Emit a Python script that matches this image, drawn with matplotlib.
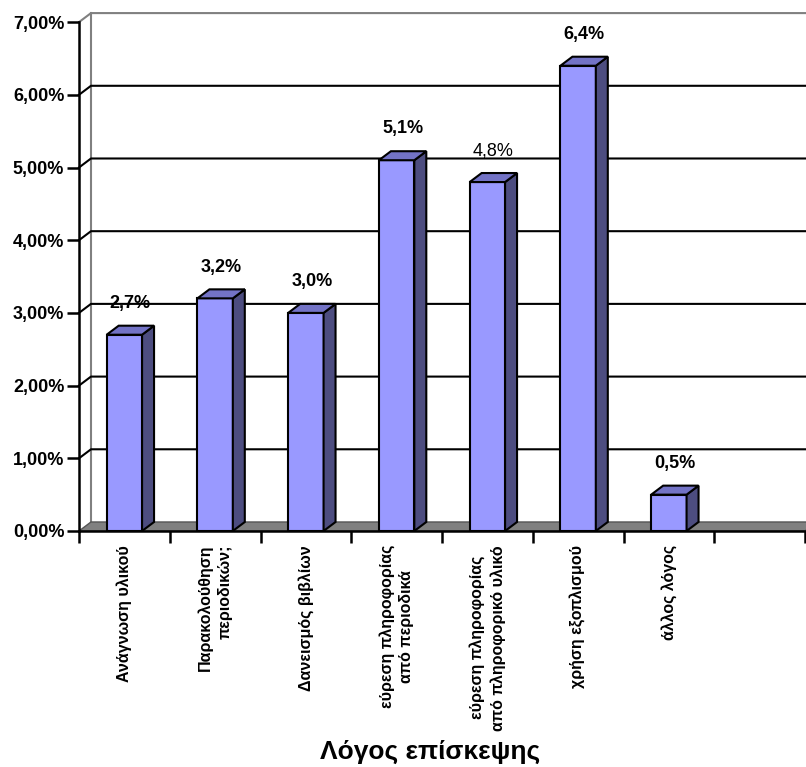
import numpy as np
import matplotlib.pyplot as plt
from matplotlib.patches import Polygon

plt.rcParams.update({
    "font.family": ["Liberation Sans", "DejaVu Sans"],
    "figure.dpi": 100,
})

categories = [
    "Ανάγνωση υλικού",
    "Παρακολούθηση\nπεριοδικών;",
    "Δανεισμός βιβλίων",
    "εύρεση πληροφορίας\nαπό περιοδικά",
    "εύρεση πληροφορίας\nαπό πληροφορικό υλικό",
    "χρήση εξοπλισμού",
    "άλλος λόγος",
    "",
]
values = [2.7, 3.2, 3.0, 5.1, 4.8, 6.4, 0.5]
value_labels = ["2,7%", "3,2%", "3,0%", "5,1%", "4,8%", "6,4%", "0,5%"]
label_bold = [True, True, True, True, False, True, True]
yticks = [0, 1, 2, 3, 4, 5, 6, 7]
ytick_labels = ["0,00%", "1,00%", "2,00%", "3,00%", "4,00%", "5,00%", "6,00%", "7,00%"]

FRONT = "#9999FF"
SIDE = "#4D4D80"
TOP = "#7373C6"
FLOOR = "#808080"
WALL_EDGE = "#808080"

# 3D depth offset in data units
DX, DY = 0.132, 0.124
BAR_W = 0.39

W, H = 806, 767
fig = plt.figure(figsize=(W / 100, H / 100), dpi=100)
ax = fig.add_axes([79 / W, (H - 531) / H, 726 / W, 519.8 / H])
ax.set_xlim(0, 8)
ax.set_ylim(0, 7.15)

n = len(categories)
xmax = n + DX

# back wall / side wall edges
ax.plot([DX, DX], [DY, 7 + DY], color=WALL_EDGE, lw=1.5, clip_on=False, zorder=1)
ax.plot([0, DX, xmax], [7, 7 + DY, 7 + DY], color=WALL_EDGE, lw=1.5, clip_on=False, zorder=1)

# gridlines on side and back wall
for v in yticks[1:-1]:
    ax.plot([0, DX, xmax], [v, v + DY, v + DY], color="black", lw=1.5,
            clip_on=False, zorder=1)

# floor
floor = Polygon([[0, 0], [n, 0], [n + DX, DY], [DX, DY]], closed=True,
                facecolor=FLOOR, edgecolor="#555555", lw=1.0, clip_on=False, zorder=1.5)
ax.add_patch(floor)

# bars
x = np.arange(len(values)) + 0.5
bars = ax.bar(x, values, width=BAR_W, color=FRONT, edgecolor="black", lw=1.5, zorder=3)
for xc, v in zip(x, values):
    xl, xr = xc - BAR_W / 2, xc + BAR_W / 2
    side = Polygon([[xr, 0], [xr + DX, DY], [xr + DX, v + DY], [xr, v]], closed=True,
                   facecolor=SIDE, edgecolor="black", lw=1.5, zorder=3)
    top = Polygon([[xl, v], [xr, v], [xr + DX, v + DY], [xl + DX, v + DY]], closed=True,
                  facecolor=TOP, edgecolor="black", lw=1.5, zorder=3)
    ax.add_patch(side)
    ax.add_patch(top)

for xc, v, lab, b in zip(x, values, value_labels, label_bold):
    ax.annotate(lab, xy=(xc + DX / 2, v + DY), xytext=(0, 16), textcoords="offset points",
                ha="center", va="center", fontsize=13,
                fontweight="bold" if b else "normal")

# axes styling
for s in ["top", "right"]:
    ax.spines[s].set_visible(False)
ax.spines["left"].set_bounds(0, 7)
ax.spines["left"].set_linewidth(1.8)
ax.spines["bottom"].set_linewidth(1.8)
ax.spines["left"].set_zorder(4)
ax.spines["bottom"].set_zorder(4)

ax.set_yticks(yticks)
ax.set_yticklabels(ytick_labels, fontsize=13, fontweight="bold")
ax.tick_params(axis="y", length=8.6, width=1.8, pad=2)

ax.set_xticks(np.arange(n + 1))
ax.set_xticklabels([])
ax.set_xticks(np.arange(n) + 0.5, minor=True)
ax.set_xticklabels(categories, minor=True, rotation=90, fontsize=11.5, fontweight="bold",
                   va="top", ha="center", multialignment="center", linespacing=1.4)
ax.get_xticklabels(minor=True)[1].set_multialignment("right")
ax.tick_params(axis="x", which="major", length=8.6, width=1.8)
ax.tick_params(axis="x", which="minor", length=0, pad=10)

fig.text(430 / W, 1 - 752 / H, "Λόγος επίσκεψης", ha="center", va="center",
         fontsize=19, fontweight="bold")

fig.savefig("out.png", dpi=100)
